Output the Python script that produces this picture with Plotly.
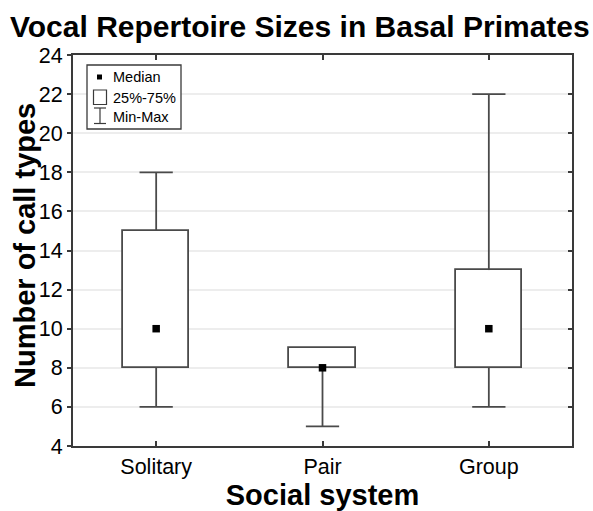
import plotly.graph_objects as go

# Vocal repertoire summary per social system
categories = ["Solitary", "Pair", "Group"]
minimum = [6, 5, 6]
q1 = [8, 8, 8]
median = [10, 8, 10]
q3 = [15, 9, 13]
maximum = [18, 9, 22]

y_ticks = list(range(4, 25, 2))

W, H = 593, 511
ML, MR, MT, MB = 73, 21, 55, 65
PW, PH = W - ML - MR, H - MT - MB

BOX_COLOR = "#4a4a4a"
FRAME_COLOR = "#3a3a3a"
FONT = "Liberation Sans, Arial, sans-serif"
BOX_WIDTH = 0.40
CAP_HALF = 0.10

positions = list(range(len(categories)))


def px_x(x):
    return (x - ML) / PW


def px_y(y):
    return 1 - (y - MT) / PH


fig = go.Figure()

# interquartile boxes
fig.add_trace(go.Bar(
    x=positions,
    base=q1,
    y=[b - a for a, b in zip(q1, q3)],
    width=BOX_WIDTH,
    marker=dict(color="white", line=dict(color=BOX_COLOR, width=1.8)),
    showlegend=False,
    hoverinfo="skip",
))

# whiskers with end caps, one polyline with gaps
wx, wy = [], []
for p, lo, a, b, hi in zip(positions, minimum, q1, q3, maximum):
    for start, end in ((a, lo), (b, hi)):
        if start == end:
            continue
        wx += [p, p, None, p - CAP_HALF, p + CAP_HALF, None]
        wy += [start, end, None, end, end, None]

fig.add_trace(go.Scatter(
    x=wx, y=wy, mode="lines",
    line=dict(color=BOX_COLOR, width=1.8),
    showlegend=False, hoverinfo="skip", connectgaps=False,
))

# medians
fig.add_trace(go.Scatter(
    x=positions, y=median, mode="markers",
    marker=dict(symbol="square", size=7.5, color="black"),
    showlegend=False, yaxis="y2",
))

# hand-built key in the upper-left corner
shapes = [
    dict(type="rect", xref="paper", yref="paper",
         x0=px_x(87), x1=px_x(181), y0=px_y(129), y1=px_y(65),
         line=dict(color=FRAME_COLOR, width=1.3), fillcolor="white", layer="above"),
    # median symbol
    dict(type="rect", xref="paper", yref="paper",
         x0=px_x(97), x1=px_x(102), y0=px_y(79.5), y1=px_y(74.5),
         line=dict(width=0), fillcolor="black", layer="above"),
    # box symbol
    dict(type="rect", xref="paper", yref="paper",
         x0=px_x(93.5), x1=px_x(106.5), y0=px_y(104.5), y1=px_y(90),
         line=dict(color=FRAME_COLOR, width=1.2), fillcolor="white", layer="above"),
    # whisker symbol
    dict(type="line", xref="paper", yref="paper",
         x0=px_x(100), x1=px_x(100), y0=px_y(123.5), y1=px_y(108),
         line=dict(color=FRAME_COLOR, width=1.2), layer="above"),
    dict(type="line", xref="paper", yref="paper",
         x0=px_x(94), x1=px_x(106), y0=px_y(108), y1=px_y(108),
         line=dict(color=FRAME_COLOR, width=1.2), layer="above"),
    dict(type="line", xref="paper", yref="paper",
         x0=px_x(94), x1=px_x(106), y0=px_y(123.5), y1=px_y(123.5),
         line=dict(color=FRAME_COLOR, width=1.2), layer="above"),
]

key_labels = ["Median", "25%-75%", "Min-Max"]
key_rows = [77, 97.5, 117]
annotations = [
    dict(text=t, xref="paper", yref="paper", x=px_x(110.5), y=px_y(yy),
         xanchor="left", yanchor="middle", showarrow=False,
         font=dict(family=FONT, size=14.5, color="black"))
    for t, yy in zip(key_labels, key_rows)
]

# vertical axis title
annotations.append(dict(
    text="<b>Number of call types</b>", textangle=-90,
    xref="paper", yref="paper", x=px_x(25), y=px_y(246),
    xanchor="center", yanchor="middle", showarrow=False,
    font=dict(family=FONT, size=29, color="black"),
))

fig.update_layout(
    width=W, height=H,
    margin=dict(l=ML, r=MR, t=MT, b=MB, autoexpand=False),
    paper_bgcolor="white", plot_bgcolor="white",
    font=dict(family=FONT, color="black"),
    title=dict(
        text="<b>Vocal Repertoire Sizes in Basal Primates</b>",
        x=10 / W, xref="container", xanchor="left",
        y=1 - 26 / H, yref="container", yanchor="middle",
        font=dict(family=FONT, size=30, color="black"),
    ),
    xaxis=dict(
        range=[-0.5, len(categories) - 0.5], automargin=False,
        tickvals=positions, ticktext=categories,
        showline=True, linecolor=FRAME_COLOR, linewidth=2, mirror="ticks",
        ticks="inside", ticklen=5, tickcolor=FRAME_COLOR, tickwidth=1.5,
        tickfont=dict(family=FONT, size=21.5, color="black"),
        showgrid=False, zeroline=False,
        title=dict(text="<b>Social system</b>", standoff=4,
                   font=dict(family=FONT, size=29, color="black")),
    ),
    yaxis=dict(
        range=[4, 24], tickvals=y_ticks, automargin=False,
        showline=True, linecolor=FRAME_COLOR, linewidth=2, mirror=True,
        ticks="outside", ticklen=4, tickcolor=FRAME_COLOR, tickwidth=1.5,
        tickfont=dict(family=FONT, size=21.5, color="black"),
        showgrid=True, gridcolor="#ededed", gridwidth=1.5, zeroline=False,
    ),
    yaxis2=dict(
        overlaying="y", side="right", matches="y", range=[4, 24],
        tickvals=y_ticks, showticklabels=False, automargin=False,
        ticks="inside", ticklen=4, tickcolor=FRAME_COLOR, tickwidth=1.5,
        showgrid=False, showline=False, zeroline=False,
    ),
    shapes=shapes,
    annotations=annotations,
    bargap=0,
)

fig.write_html("out.html")
